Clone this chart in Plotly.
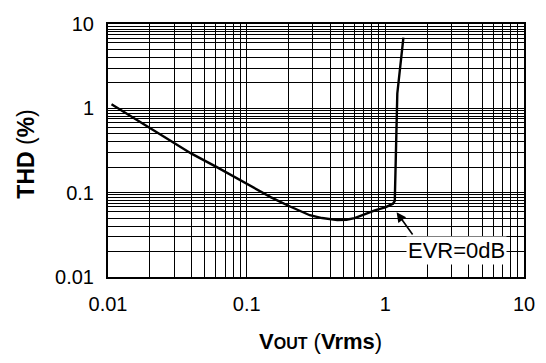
import numpy as np
import plotly.graph_objects as go

# Data
vout = [0.0106, 0.0211, 0.03, 0.04, 0.0605, 0.0995, 0.15, 0.2, 0.285, 0.35, 0.45,
        0.524, 0.6, 0.73, 0.85, 1.0, 1.135, 1.17, 1.22, 1.35]
thd = [1.12, 0.551, 0.39, 0.29, 0.202, 0.128, 0.088, 0.07, 0.054, 0.05, 0.0472,
       0.0477, 0.05, 0.0564, 0.062, 0.067, 0.074, 0.08, 1.5, 6.88]

x_major = [0.01, 0.1, 1, 10]
x_major_text = ["0.01", "0.1", "1", "10"]
y_major = [0.01, 0.1, 1, 10]
y_major_text = ["0.01", "0.1", "1", "10"]
x_minor_mult = [2, 3, 4, 5, 6, 7, 8, 9]
y_minor_mult = [2, 3, 4, 5, 6, 6.8, 7.5, 8.1, 8.7, 9.4]

label_text = "EVR=0dB"
label_pos = (3.27, 0.0207)
arrow_tip = (1.206, 0.0585)

FONT = "Liberation Sans, Arial, Helvetica, sans-serif"


def grid_vals(majors, mults):
    vals = []
    for m in majors:
        vals.append(m)
        if m != majors[-1]:
            for k in mults:
                vals.append(m * k)
    return vals


xv = grid_vals(x_major, x_minor_mult)
yv = grid_vals(y_major, y_minor_mult)
xt = [x_major_text[x_major.index(v)] if v in x_major else "" for v in xv]
yt = [y_major_text[y_major.index(v)] if v in y_major else "" for v in yv]

fig = go.Figure()
fig.add_trace(go.Scatter(x=vout, y=thd, mode="lines",
                         line=dict(color="black", width=2.4),
                         showlegend=False, hoverinfo="skip"))

axis_common = dict(
    type="log", showgrid=True, gridcolor="black", gridwidth=1.2,
    showline=True, linecolor="black", linewidth=2, mirror=True,
    ticks="", zeroline=False,
    tickfont=dict(family=FONT, size=20, color="black"),
)
fig.update_xaxes(range=[-2, 1], tickmode="array", tickvals=xv, ticktext=xt,
                 ticklabelstandoff=8, **axis_common)
fig.update_yaxes(range=[-2, 1], tickmode="array", tickvals=yv, ticktext=yt,
                 ticklabelstandoff=8, **axis_common)

# arrow
fig.add_annotation(x=np.log10(arrow_tip[0]), y=np.log10(arrow_tip[1]), xref="x", yref="y",
                   text=" ", showarrow=True, ax=18, ay=25, arrowhead=2, arrowsize=1.2,
                   arrowwidth=1.6, arrowcolor="black", font=dict(size=2))
# label
fig.add_annotation(x=np.log10(label_pos[0]), y=np.log10(label_pos[1]), xref="x", yref="y",
                   text=label_text, showarrow=False, bgcolor="white", borderpad=1,
                   font=dict(family=FONT, size=22, color="black"))

# axis titles
fig.add_annotation(xref="paper", yref="paper", x=0.51, y=-0.254, xanchor="center", yanchor="middle",
                   text="<b>V<span style='font-size:16px'>OUT</span></b> (<b>Vrms</b>)",
                   showarrow=False, font=dict(family=FONT, size=22, color="black"))
fig.add_annotation(xref="paper", yref="paper", x=-0.198, y=0.486, xanchor="center", yanchor="middle",
                   text="<b>THD</b> (<b>%</b>)", textangle=-90,
                   showarrow=False, font=dict(family=FONT, size=23, color="black"))

fig.update_layout(width=546, height=363, margin=dict(l=108, r=22, t=24, b=86),
                  plot_bgcolor="white", paper_bgcolor="white")

fig.write_html("out.html")
